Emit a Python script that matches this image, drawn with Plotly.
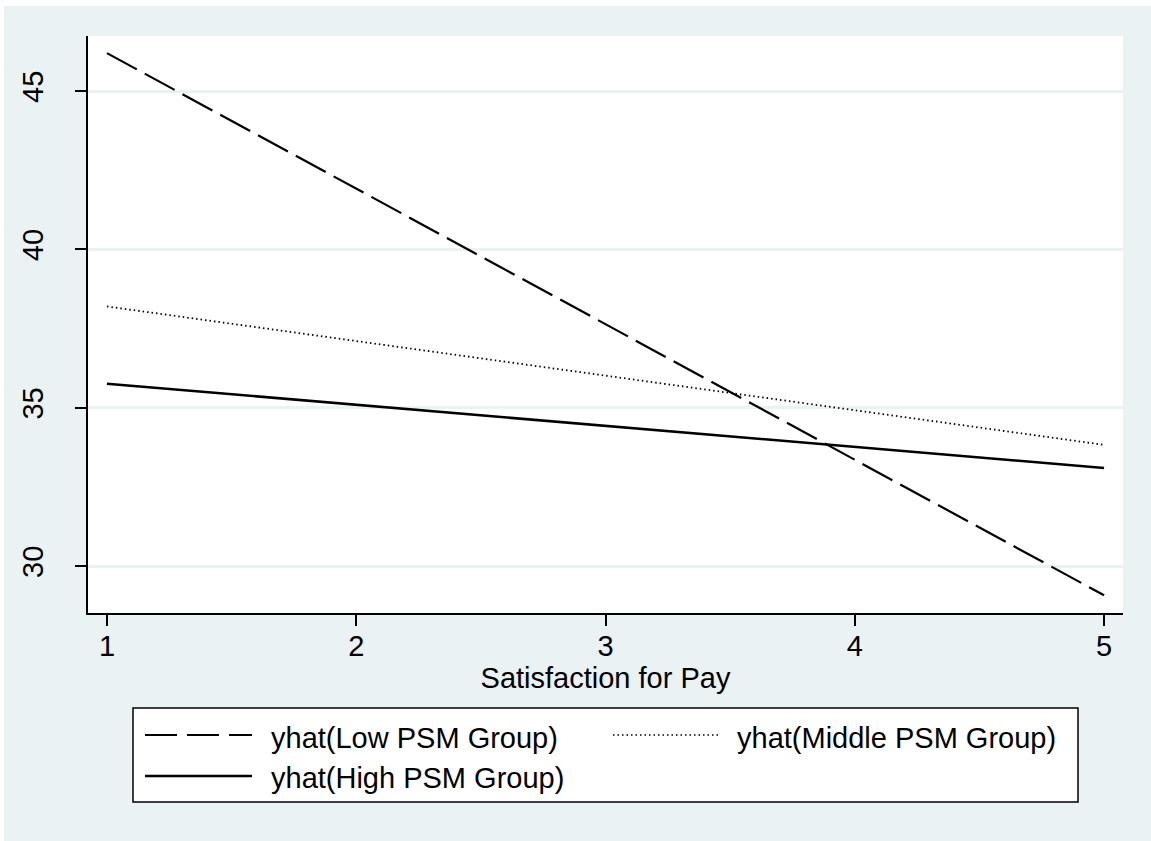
import plotly.graph_objects as go

# ---- data ----
x_vals = [1, 5]
low_psm = [46.2, 29.08]
middle_psm = [38.2, 33.83]
high_psm = [35.76, 33.1]
series_names = ["yhat(Low PSM Group)", "yhat(Middle PSM Group)", "yhat(High PSM Group)"]
x_ticks = [1, 2, 3, 4, 5]
y_ticks = [30, 35, 40, 45]
x_title = "Satisfaction for Pay"

W, H = 1151, 841
L, R, T, B = 88, 28, 36, 228
PW, PH = W - L - R, H - T - B
BG = "#EAF2F3"
FONT = "Liberation Sans, Arial, sans-serif"
FS = 29


def px(x):
    return (x - L) / PW


def py(y):
    return (H - B - y) / PH


fig = go.Figure()
fig.add_trace(go.Scatter(x=x_vals, y=low_psm, mode="lines", name=series_names[0],
                         line=dict(color="black", width=2.2, dash="34px,9px"), showlegend=False))
fig.add_trace(go.Scatter(x=x_vals, y=middle_psm, mode="lines", name=series_names[1],
                         line=dict(color="black", width=1.8, dash="1.5px,3px"), showlegend=False))
fig.add_trace(go.Scatter(x=x_vals, y=high_psm, mode="lines", name=series_names[2],
                         line=dict(color="black", width=2.6), showlegend=False))

shapes = []
annotations = []
# white strips at top and left edge of the image
shapes.append(dict(type="rect", xref="paper", yref="paper", x0=px(0), x1=px(W), y0=py(6), y1=py(0),
                   fillcolor="white", line=dict(width=0), layer="below"))
shapes.append(dict(type="rect", xref="paper", yref="paper", x0=px(0), x1=px(4), y0=py(H), y1=py(0),
                   fillcolor="white", line=dict(width=0), layer="below"))

# legend box
shapes.append(dict(type="rect", xref="paper", yref="paper", x0=px(133), x1=px(1078), y0=py(802), y1=py(708),
                   fillcolor="white", line=dict(color="black", width=1.5), layer="above"))
legend_items = [
    (series_names[0], 145, 252, 735, 738, dict(color="black", width=2.2, dash="32px,10px")),
    (series_names[1], 613, 718, 735, 738, dict(color="black", width=1.4, dash="1.5px,3px")),
    (series_names[2], 145, 252, 776, 778, dict(color="black", width=2.6)),
]
for name, sx0, sx1, sy, ty, ln in legend_items:
    shapes.append(dict(type="line", xref="paper", yref="paper", x0=px(sx0), x1=px(sx1), y0=py(sy), y1=py(sy),
                       line=ln, layer="above"))
    annotations.append(dict(text=name, xref="paper", yref="paper", x=px(sx1 + 17), y=py(ty),
                            xanchor="left", yanchor="middle", showarrow=False,
                            font=dict(family=FONT, size=FS, color="black")))

fig.update_layout(
    width=W, height=H,
    margin=dict(l=L, r=R, t=T, b=B, pad=0),
    paper_bgcolor=BG, plot_bgcolor="white",
    font=dict(family=FONT, size=FS, color="black"),
    showlegend=False,
    shapes=shapes, annotations=annotations,
    xaxis=dict(range=[0.924, 5.076], tickmode="array", tickvals=x_ticks, ticks="outside",
               ticklen=11, tickwidth=1.5, tickcolor="black", showgrid=False, zeroline=False,
               showline=True, linecolor="black", linewidth=1.5, ticklabelstandoff=-5,
               tickfont=dict(family=FONT, size=FS, color="black"),
               title=dict(text=x_title, standoff=4, font=dict(family=FONT, size=FS, color="black"))),
    yaxis=dict(range=[28.52, 46.74], tickmode="array", tickvals=y_ticks, ticks="outside",
               ticklen=11, tickwidth=1.5, tickcolor="black", showgrid=True, gridcolor=BG, gridwidth=2.5,
               zeroline=False, showline=True, linecolor="black", linewidth=1.5, tickangle=-90,
               tickfont=dict(family=FONT, size=FS, color="black"), ticklabelstandoff=21),
)

fig.write_html("out.html", default_width="1151px", default_height="841px",
               config={"displayModeBar": False},
               post_script="document.body.style.margin='0';document.body.style.overflow='hidden';"
                           "document.body.style.background='" + BG + "';")
